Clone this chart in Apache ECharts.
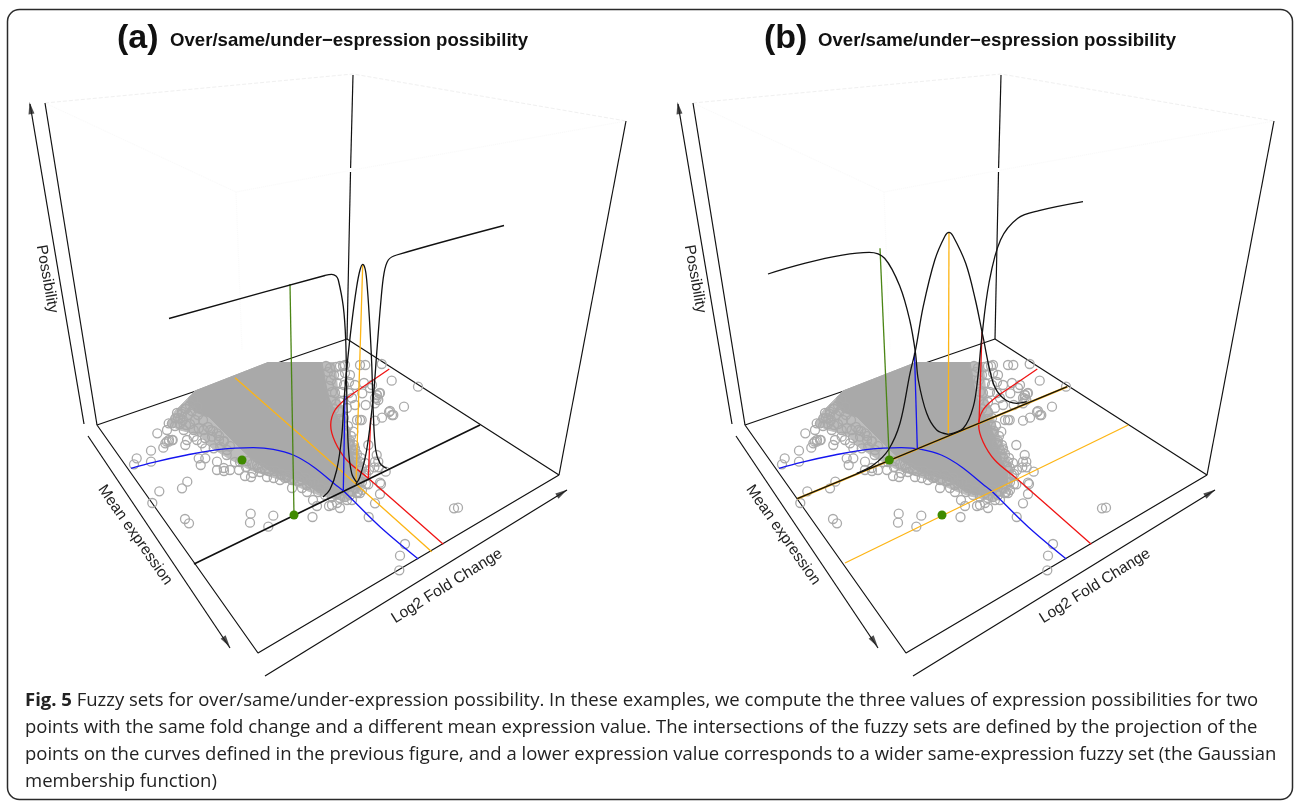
<!DOCTYPE html>
<html><head><meta charset="utf-8">
<style>html,body{margin:0;padding:0;background:#fff}#c{width:1296px;height:801px}</style>
<script src="https://cdn.jsdelivr.net/npm/echarts@6/dist/echarts.min.js"></script>
</head><body><div id="c"></div>
<script>
// ---------- picture-unit data (each panel has its own 648-wide axis pair) ----------
const panelTitles = ['(a)', '(b)'];
const plotTitle = 'Over/same/under\u2212espression possibility';
const axisNames = ['Possibility', 'Mean expression', 'Log2 Fold Change'];
const captionLines = [
 '{b|Fig. 5} Fuzzy sets for over/same/under-expression possibility. In these examples, we compute the three values of expression possibilities for two',
 'points with the same fold change and a different mean expression value. The intersections of the fuzzy sets are defined by the projection of the',
 'points on the curves defined in the previous figure, and a lower expression value corresponds to a wider same-expression fuzzy set (the Gaussian',
 'membership function)'
];

// box shared by both panels
const boxLeftWall = [[45,103],[97,425]];
const boxBackEdgeLower = [[353,75],[350.6,168]];
const boxBackEdgeUpper = [[350.5,172],[347,339]];
const boxRightWall = [[626,121],[559,475]];
const floorOutline = [[347,339],[97,425],[258,653],[559,475],[347,339]];
const axisPossibility = [[84,424],[30,104]];
const axisMean = [[88,436],[230,648]];
const axisLog2 = [[265,676],[567,490]];
const arrowTips = [[30.5,108,9.5],[226.5,642,-146],[562,493,-58.4]];
const faintTop = [[45,103],[353,74],[626,121]];
const faintFront = [[626,121],[353,170],[236,192],[45,103]];
const faintPost = [[236,192],[242,350]];

// membership curves on the floor, shared
const floorBlue = [[131,468.3],[153.3,462.3],[186.7,455],[220,449.3],[253.3,447.7],[273.3,449.3],[293.3,455],[313.3,466.7],[336.7,485.7],[343.3,490.7],[380,526.7],[418.3,559]];
const floorRed = [[389.3,369],[368.3,383.3],[346.7,398.3],[335,410],[330.7,425],[335,441.7],[346.7,460],[368.3,478.3],[443.3,544.3]];

// gene cloud, shared: dense core and the speckled fringe round it
const cloudOutline = [[268,362.5],[322,362.5],[326,385],[329,398],[335,412],[342,425],[347,438],[352,455],[358,470],[360,483],[345,495],[332,495],[315,490],[305,483],[289,477],[272,472],[255,462],[242,450],[229,437],[209,417],[195,412],[187,402],[195,391]];
const cloudFringe = [[195,391],[175,411],[167,424],[180,430],[200,435],[212,448],[228,458],[250,470],[272,477],[292,484],[308,491],[322,496],[345,501],[360,492],[366,478],[360,458],[351,436],[345,416],[338,395],[336,372],[334,362.5],[268,362.5]];
const genePoints = [
 [136.7,458.3],[134,464.3],[151,450.7],[151,461.7],[157.3,433.3],[163.3,447.7],[166.7,441.7],[169,440],[172.7,440],[159.3,491.3],[152.3,503],[182,488.3],[187.3,481.7],[185,519],[189,523.3],[250.7,513.7],[250,522.7],[273.3,515.7],[268.3,526.7],[312.5,517],
 [177,413],[182,411.7],[185.3,408.3],[175.3,418.3],[180.3,418.3],[168.7,423.3],[172,423.3],[167,430],[183.7,430],[193.7,430],[198.7,428.3],[203.7,430],[210.3,430],[217,433.3],[223.7,441.7],[172,440],[168.7,441.7],[165.3,443.3],[187,440],[185.3,445],[193.7,436.7],[197,440],[202,443.3],[205.3,448.3],[213.7,448.3],[219,440],[212,436.7],[220.3,446.7],[227,450],[198.7,458.3],[205.3,458.3],[200.7,465],[217,461.7],[226.7,455],[217,470],[223.7,468],[235,462],
 [178,418],[182,414],[186,409],[190,405],[193,400],[183,420],[188,415],[192,411],[197,407],[198,415],[203,420],[190,424],[195,420],[208,427],[213,431],[219,436],[224,441],[230,446],[205,438],[180,424],[175,426],[186,425],
 [224,471],[230,470],[239,470],[245,476],[251,477],[253,473],[260,472],[267,477],[273.7,478],[280,480],[292,480],[292,488],[307,485],[307,492],[313,500],[317,506],[329,506],[332,505],[337,503],[340,508],[347,500],[352,500],[357,493],[360,493],
 [240,462],[246,467],[258,468],[265,470],[285,478],[302,488],[310,483],[318,492],[325,495],[332,497],[340,498],[345,497],[350,495],[358,492],[362,490],[366,484],
 [282,475],[287,477],[297,475],[302,480],[305,478],[314,483],[320,488],[327,490],[337,493],[344,490],[350,495],[355,488],[362,482],[364,475],[362,468],[360,462],[355,457],[352,450],[349,445],
 [247,461],[252,464],[257,465],[262,468],[269,471],[275,471],[281,474],[288,475],[294,479],[299,481],
 [340,366],[343,366],[360,365],[365.3,365],[381.7,364],[391.7,380.7],[418,386.7],[404,406.7],[390,411],[393.3,415],[382,417.7],[375,420.7],[379.3,393.3],[376.7,398.3],[378.3,400],[375,403.3],[376.7,395],[365.7,405],[362.3,393.3],[360,420],[361.7,420],[353.3,431.7],[368.3,445],[355,448.3],[376.7,455],[375,461.7],[378.3,461.7],[374.3,467.3],[378.7,467.3],[385.7,471.7],[368.3,484.3],[380,482.7],[381,484],[380,494],[375,503.3],[368.7,517],[454,508.3],[458,507.7],[405,544],[400,555.7],[399.3,570.3],
 [336,367],[345,365],[334,375],[339,375],[345,373],[350,375],[337,383],[344,385],[349,382],[342,392],[335,393],[349,393],[355,385],[372,385],[370,388],[364,383],[355,405],[352,398],[347,408],[340,402],[357,420],[375,398],[377,395],[380,393],[389,412],[392,415],[345,433],[349,443],[355,450],
 [326,366],[330,368],[328,372],[331,380],[329,386],[332,392],[331,400],[336,404],[334,409],[340,412],[344,418],[339,419],[343,425],[348,426],[346,431],[351,436],[350,441],[354,445],[357,454],[361,458],[365,463],[359,467],[369,470],[366,474]
];

// panel (a)
const aBaseline = [[194,564],[480,425]];
const aOrangeFloor = [[235,377.7],[292.7,428.3],[356,484],[431.7,551.7]];
const aGreenStem = [[290,284],[294,515]];
const aBlueStem = [[343.3,490.7],[345,396]];
const aOrangeStem = [[356,484],[362.7,265]];
const aRedStem = [[368.3,478.3],[370.7,418]];
const aGreenDots = [[294,515],[242,460]];
const aUnder = [[169,318.5],[325,275.5],[331.7,274.3],[336,276],[338.3,280],[343.3,306.7],[345.7,340],[346.7,390],[348.3,446.7],[351.7,473.3],[356.7,482.3]];
const aGauss = [[323,497],[330,489.3],[336.7,470],[341.7,436.7],[344.3,396.7],[347.3,363.3],[351.7,323.3],[356.7,286.7],[360,270],[362.7,264.3],[365,268.3],[366.7,280],[369.3,316.7],[371.7,363.3],[373.3,413.3],[375.7,450],[380,463.3],[386.7,468.3]];
const aOver = [[356,484],[360,476.7],[366.7,450],[373.3,396.7],[376.7,353.3],[380.7,303.3],[384,273.3],[388.3,260],[396.7,255],[504,225.5]];

// panel (b), local x = picture x - 648
const bBaseline = [[149.3,498.7],[419.3,386.7]];
const bOrangeFloor = [[197,563],[480.3,425]];
const bGreenStem = [[232,248.3],[241.3,460]];
const bBlueStem = [[269.3,448.3],[266.5,353]];
const bOrangeStem = [[300.3,433.3],[301,232.7]];
const bRedStem = [[331,423.3],[334,331.7]];
const bGreenDots = [[294,515],[241.3,460]];
const bUnder = [[120,274],[221.2,252.3],[236.6,258.3],[252,286.7],[261.7,320],[267.5,353],[270.3,380],[278.7,413.3],[288.7,430],[300.3,434.3]];
const bGauss = [[208.7,473.3],[225.3,465],[240.3,450],[252,423.3],[262,373.3],[267.5,350],[275.2,306.7],[286.8,260],[297,236],[301,232.3],[305,236],[317.7,263.3],[327.4,300],[335,336.7],[345.3,383.3],[355.3,398.3],[368.7,403.3],[378.7,401.7]];
const bOver = [[300.3,434.3],[315.3,428.3],[325.3,406.7],[330.3,373.3],[333.5,340],[341,283],[352.5,240],[369.8,218.3],[391,210.7],[435,201.7]];

// ---------- chart ----------
const BLACK='#111', BLUE='#1414f0', RED='#f01414', ORANGE='#fdb515', GREEN='#4a8514', GREY='#a9a9a9';
function line(g, pts, color, width, smooth, extra){
  return Object.assign({type:'line', xAxisIndex:g, yAxisIndex:g, data:pts, showSymbol:false, smooth:smooth?0.35:false,
    lineStyle:{color:color,width:width}, silent:true, z:5, clip:false}, extra||{});
}
function area(g, pts, fill, z){
  return {type:'custom', xAxisIndex:g, yAxisIndex:g, data:[pts[0]], z:z, silent:true, clip:false,
    renderItem:function(params, api){
      return {type:'polygon', shape:{points:pts.map(function(p){return api.coord(p);})}, style:{fill:fill, stroke:fill}};
    }};
}
const series = [];
[0,1].forEach(function(g){
  series.push(line(g, faintTop, '#eeeeee', 1, false, {lineStyle:{color:'#f0f0f0',width:1,type:'dashed'}, z:1}));
  series.push(line(g, faintFront, '#f8f8f8', 1, false, {lineStyle:{color:'#f9f9f9',width:1,type:'dotted'}, z:1}));
  series.push(line(g, faintPost, '#fafafa', 1, false, {lineStyle:{color:'#fafafa',width:1,type:'dotted'}, z:1}));
  [boxLeftWall,boxBackEdgeLower,boxBackEdgeUpper,boxRightWall,floorOutline,axisPossibility,axisMean,axisLog2].forEach(function(p){
    series.push(line(g, p, '#111', 1.2, false, {z:1}));
  });
  series.push(area(g, cloudFringe, '#bdbdbd', 2));
  series.push(area(g, cloudOutline, GREY, 2));
  series.push({type:'scatter', xAxisIndex:g, yAxisIndex:g, data:genePoints, symbol:'circle', symbolSize:9, z:3, silent:true,
    itemStyle:{color:'rgba(0,0,0,0)', borderColor:'#aaaaaa', borderWidth:1.3, opacity:1}});
  series.push({type:'scatter', xAxisIndex:g, yAxisIndex:g, data:arrowTips.map(function(a){return {value:[a[0],a[1]], symbolRotate:a[2]};}),
    symbol:'triangle', symbolSize:[6,12], z:4, silent:true, itemStyle:{color:'#222'}});
  series.push(line(g, floorBlue, BLUE, 1.3, true));
  series.push(line(g, floorRed, RED, 1.3, true));
});
// panel a
series.push(line(0,aOrangeFloor,ORANGE,1.3,false));
series.push(line(0,aBaseline,BLACK,1.7,false));
series.push(line(0,aGreenStem,GREEN,1.3,false));
series.push(line(0,aBlueStem,BLUE,1.3,false));
series.push(line(0,aOrangeStem,ORANGE,1.3,false));
series.push(line(0,aRedStem,RED,1.3,false));
series.push(line(0,aUnder,BLACK,1.3,true));
series.push(line(0,aGauss,BLACK,1.3,true));
series.push(line(0,aOver,BLACK,1.3,true));
series.push({type:'scatter',xAxisIndex:0,yAxisIndex:0,data:aGreenDots,symbolSize:9,z:6,silent:true,itemStyle:{color:'#3f8a00',opacity:1}});
// panel b
series.push(line(1,bOrangeFloor,ORANGE,1.3,false));
series.push(line(1,bBaseline,ORANGE,2.2,false));
series.push(line(1,bBaseline,BLACK,1.3,false));
series.push(line(1,bGreenStem,GREEN,1.3,false));
series.push(line(1,bBlueStem,BLUE,1.3,false));
series.push(line(1,bOrangeStem,ORANGE,1.3,false));
series.push(line(1,bRedStem,RED,1.3,false));
series.push(line(1,bUnder,BLACK,1.3,true));
series.push(line(1,bGauss,BLACK,1.3,true));
series.push(line(1,bOver,BLACK,1.3,true));
series.push({type:'scatter',xAxisIndex:1,yAxisIndex:1,data:bGreenDots,symbolSize:9,z:6,silent:true,itemStyle:{color:'#3f8a00',opacity:1}});

const helv = '"Liberation Sans", Arial, sans-serif';
const graphic = [{type:'rect', shape:{x:7.5,y:9.5,width:1285,height:790,r:12}, style:{fill:'none',stroke:'#2a2a2a',lineWidth:1.5}, z:0, silent:true}];
[0,648].forEach(function(dx,i){
  graphic.push({type:'text', x:117+dx-(i?1:0), y:22, style:{text:panelTitles[i], font:'bold 34px '+helv, fill:'#111'}, silent:true});
  graphic.push({type:'text', x:170+dx, y:31, style:{text:plotTitle, font:'bold 18.6px '+helv, fill:'#111'}, silent:true});
  graphic.push({type:'text', x:47+dx, y:279, rotation:-80*Math.PI/180, style:{text:axisNames[0], font:'15.5px '+helv, fill:'#222', align:'center', verticalAlign:'middle'}, silent:true});
  graphic.push({type:'text', x:135+dx, y:535, rotation:-55*Math.PI/180, style:{text:axisNames[1], font:'15.5px '+helv, fill:'#222', align:'center', verticalAlign:'middle'}, silent:true});
  graphic.push({type:'text', x:447+dx, y:586, rotation:32*Math.PI/180, style:{text:axisNames[2], font:'15.5px '+helv, fill:'#222', align:'center', verticalAlign:'middle'}, silent:true});
});
captionLines.forEach(function(t,i){
  graphic.push({type:'text', x:25, y:691+i*27, style:{text:t, font:'18.5px "Open Sans", sans-serif', fill:'#222',
    rich:{b:{font:'bold 18.5px "Open Sans", sans-serif', fill:'#222'}}}, silent:true});
});

const chart = echarts.init(document.getElementById('c'), null, {renderer:'canvas'});
const ax = function(g){return {gridIndex:g,type:'value',min:0,max:648,show:false};};
const ay = function(g){return {gridIndex:g,type:'value',min:0,max:801,inverse:true,show:false};};
chart.setOption({
  animation:false, backgroundColor:'#fff', tooltip:{show:false},
  grid:[{left:0,top:0,width:648,height:801},{left:648,top:0,width:648,height:801}],
  xAxis:[ax(0),ax(1)], yAxis:[ay(0),ay(1)],
  series:series, graphic:graphic
});
</script></body></html>
